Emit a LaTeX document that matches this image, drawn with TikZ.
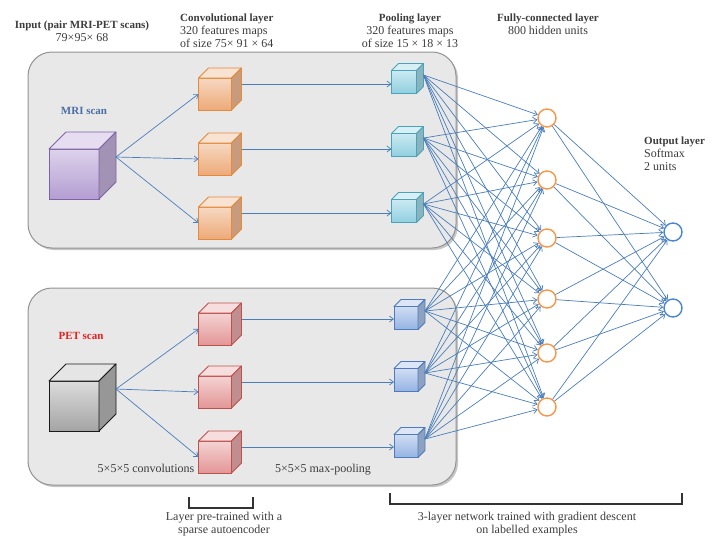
\documentclass[tikz,border=0pt]{standalone}
\usepackage{fontspec}
\setmainfont{Liberation Serif}
\usetikzlibrary{arrows.meta,shadows}

\definecolor{mriL}{HTML}{DDD2EB}\definecolor{mriD}{HTML}{B49ED2}\definecolor{mriB}{HTML}{7F62A6}
\definecolor{cnvL}{HTML}{F6D8C2}\definecolor{cnvD}{HTML}{EDAA78}\definecolor{cnvB}{HTML}{E58A3C}
\definecolor{polL}{HTML}{CBEAF2}\definecolor{polD}{HTML}{90CFDF}\definecolor{polB}{HTML}{4AA3B8}
\definecolor{petL}{HTML}{DCDCDC}\definecolor{petD}{HTML}{A4A4A4}\definecolor{petB}{HTML}{1A1A1A}
\definecolor{pcnL}{HTML}{F4D3D3}\definecolor{pcnD}{HTML}{E39696}\definecolor{pcnB}{HTML}{C0504D}
\definecolor{ppoL}{HTML}{D0DDF3}\definecolor{ppoD}{HTML}{95B3E3}\definecolor{ppoB}{HTML}{4F7BBD}
\definecolor{linkblue}{HTML}{4A7EBB}
\definecolor{hidorange}{HTML}{F79646}
\definecolor{outblue}{HTML}{4A86D0}
\definecolor{txtgray}{HTML}{3C3C3C}
\definecolor{mritxt}{HTML}{4A6FA5}
\definecolor{pettxt}{HTML}{E8201E}

\newcommand{\hd}[1]{{\fontsize{11}{13}\selectfont\bfseries #1}}

\tikzset{
  panel/.style={draw=gray!85, fill=gray!18, line width=1pt, rounded corners=24pt,
    drop shadow={shadow xshift=2pt, shadow yshift=-2pt, opacity=.45}},
  cubefront/.style={rectangle, inner sep=0pt, outer sep=0pt, line width=.9pt},
  link/.style={draw=linkblue, line width=.7pt, -{Straight Barb[length=4pt,width=6pt]}},
  hidden/.style={circle, draw=hidorange, line width=1.4pt, minimum size=18pt, inner sep=0pt, fill=white},
  output/.style={circle, draw=outblue, line width=1.4pt, minimum size=18pt, inner sep=0pt, fill=white},
  txt/.style={inner sep=0pt, text=txtgray, font=\fontsize{12}{13}\selectfont, align=center},
  bracket/.style={draw=black!80, line width=1.6pt}
}

% name, x, y, width, height, depth, colour family
\newcommand{\drawcube}[7]{%
  \node[cubefront, minimum width=#4pt, minimum height=#5pt, top color=#7L, bottom color=#7D, draw=#7B] (#1) at (#2,#3) {};
  \filldraw[fill=#7L!75!white, draw=#7B, line width=.9pt, line join=round] (#1.north west) -- ([shift={(#6,-#6)}]#1.north west) -- ([shift={(#6,-#6)}]#1.north east) -- (#1.north east) -- cycle;
  \filldraw[fill=#7D!65!gray, draw=#7B, line width=.9pt, line join=round] (#1.north east) -- ([shift={(#6,-#6)}]#1.north east) -- ([shift={(#6,-#6)}]#1.south east) -- (#1.south east) -- cycle;
  \coordinate (#1-o) at ([shift={(#6,-#6)}]#1.east);
}

\begin{document}
\begin{tikzpicture}[x=1pt,y=-1pt]
\useasboundingbox (0,0) rectangle (715,550);

% panels
\draw[panel] (28,52) rectangle (456,248);
\draw[panel] (28,288) rectangle (456,485);

% headers
\node[txt, anchor=north] (hin) at (82,21) {\hd{Input (pair MRI-PET scans)}\\79×95× 68};
\node[txt, anchor=north west, align=left] (hconv) at (180,14) {\hd{Convolutional layer}\\320 features maps\\of size 75× 91 × 64};
\node[txt, anchor=north] (hpool) at (410,14) {\hd{Pooling layer}\\320 features maps\\of size 15 × 18 × 13};
\node[txt, anchor=north] (hfc) at (548,14) {\hd{Fully-connected layer}\\800 hidden units};
\node[txt, anchor=north west, align=left] (hout) at (644,137) {\hd{Output layer}\\Softmax\\2 units};

\node[txt, text=mritxt] (mrilbl) at (84,111) {\hd{MRI scan}};
\node[txt, text=pettxt] (petlbl) at (81,336) {\hd{PET scan}};
\node[txt] (convlbl) at (146,468) {5×5×5 convolutions};
\node[txt] (poollbl) at (323,470) {5×5×5 max-pooling};

% cubes
\drawcube{mri}{74}{174}{50}{50}{17}{mri}
\drawcube{pet}{74}{406}{50}{50}{17}{pet}
\drawcube{c1}{215}{94}{33}{32}{10}{cnv}
\drawcube{c2}{215}{159}{33}{32}{10}{cnv}
\drawcube{c3}{215}{223}{33}{32}{10}{cnv}
\drawcube{d1}{215}{329}{33}{32}{10}{pcn}
\drawcube{d2}{215}{392}{33}{32}{10}{pcn}
\drawcube{d3}{215}{457}{33}{32}{10}{pcn}
\drawcube{p1}{404}{82}{25}{23}{7}{pol}
\drawcube{p2}{404}{145}{25}{23}{7}{pol}
\drawcube{p3}{404}{211}{25}{23}{7}{pol}
\drawcube{q1}{406}{318}{24}{23}{7}{ppo}
\drawcube{q2}{406}{380}{24}{23}{7}{ppo}
\drawcube{q3}{406}{446}{24}{23}{7}{ppo}

% fully-connected and output units
\foreach \y [count=\j] in {118,180,238,299,353,407}
  \node[hidden] (h\j) at (547,\y) {};
\node[output] (o1) at (673,232) {};
\node[output] (o2) at (673,308) {};

% links
\foreach \i in {1,2,3}{
  \draw[link] (mri-o) -- (c\i.west);
  \draw[link] (pet-o) -- (d\i.west);
  \draw[link] (c\i-o) -- (c\i-o -| p\i.west);
  \draw[link] (d\i-o) -- (d\i-o -| q\i.west);
}
\foreach \p in {p1,p2,p3,q1,q2,q3}
  \foreach \j in {1,...,6}
    \draw[link] (\p-o) -- (h\j);
\foreach \j in {1,...,6}{
  \draw[link] (h\j) -- (o1);
  \draw[link] (h\j) -- (o2);
}

% brackets
\draw[bracket] (189,497) -- (189,508) -- (253,508) -- (253,497);
\draw[bracket] (390,493) -- (390,504) -- (682,504) -- (682,493);
\node[txt, anchor=north] (prelbl) at (224,512) {Layer pre-trained with a\\sparse autoencoder};
\node[txt, anchor=north] (netlbl) at (527,512) {3-layer network trained with gradient descent\\on labelled examples};
\end{tikzpicture}
\end{document}
